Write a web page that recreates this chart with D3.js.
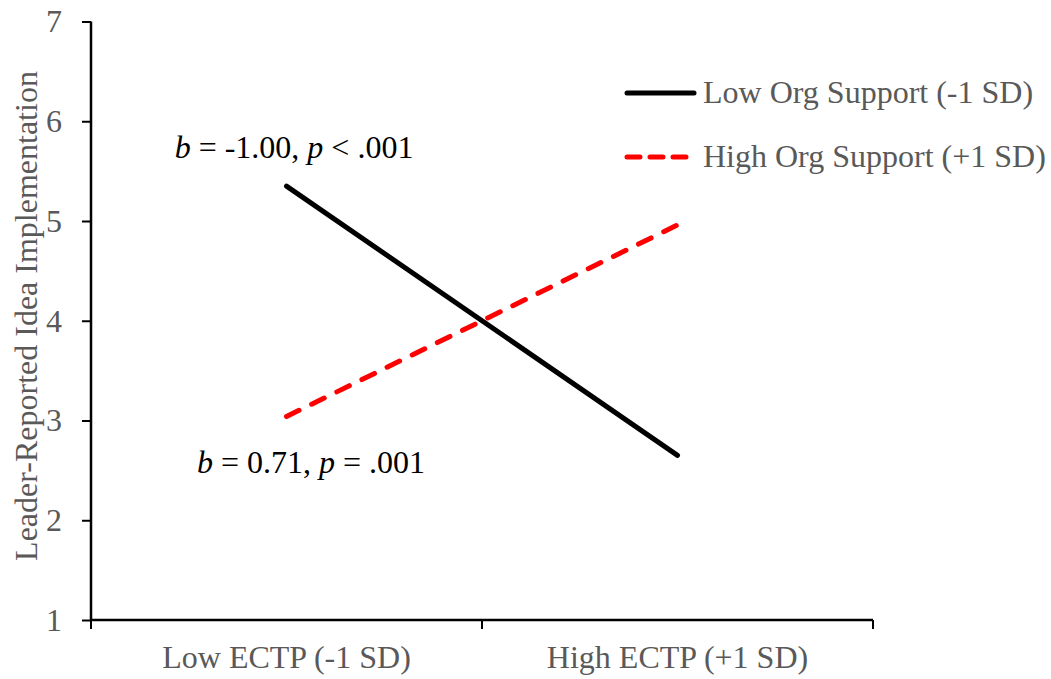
<!DOCTYPE html>
<html><head><meta charset="utf-8">
<script src="https://cdn.jsdelivr.net/npm/d3@7"></script>
<style>body{margin:0;background:#fff}svg{display:block}</style>
</head><body>
<svg id="c" width="1051" height="679"></svg>
<script>
const categories = ["Low ECTP (-1 SD)", "High ECTP (+1 SD)"];
const seriesNames = ["Low Org Support (-1 SD)", "High Org Support (+1 SD)"];
const lowOrg = [5.35, 2.65];
const highOrg = [3.04, 4.96];
const yTicks = [1, 2, 3, 4, 5, 6, 7];
const annotations = [
  {parts: [["b", true], [" = -1.00, ", false], ["p", true], [" < .001", false]]},
  {parts: [["b", true], [" = 0.71, ", false], ["p", true], [" = .001", false]]}
];

const svg = d3.select("#c");
const font = "'Liberation Serif', 'Times New Roman', serif";
const gray = "#595959";
const fs = 32;
const x = d3.scaleBand().domain(categories).range([91, 873]);
const y = d3.scaleLinear().domain([1, 7]).range([620, 21.5]);

const yAxis = svg.append("g").attr("transform", "translate(91,0)")
  .call(d3.axisLeft(y).tickValues(yTicks).tickFormat(d3.format("d")).tickSize(9).tickPadding(20));
const xAxis = svg.append("g").attr("transform", "translate(0,620)")
  .call(d3.axisBottom(x).tickSize(9).tickPadding(16));
xAxis.selectAll(".tick line").remove();
xAxis.selectAll(".bnd").data([91, 482, 873]).enter().append("line")
  .attr("x1", d => d).attr("x2", d => d).attr("y1", 0).attr("y2", 9)
  .attr("stroke", "#000").attr("stroke-width", 2);
[yAxis, xAxis].forEach(g => {
  g.attr("font-family", font).attr("font-size", fs);
  g.select(".domain").attr("stroke", "#000").attr("stroke-width", 2.5);
  g.selectAll(".tick line").attr("stroke", "#000").attr("stroke-width", 2);
  g.selectAll("text").attr("font-family", font).attr("font-size", fs).attr("fill", gray);
});
xAxis.select(".domain").attr("d", "M91,0H873");
yAxis.select(".domain").attr("d", "M0,21.5V620");

svg.append("text").attr("transform", "translate(30,316) rotate(-90)")
  .attr("text-anchor", "middle").attr("dominant-baseline", "middle")
  .attr("font-family", font).attr("font-size", fs).attr("fill", gray)
  .text("Leader-Reported Idea Implementation");

const line = d3.line().x((d, i) => x(categories[i]) + x.bandwidth() / 2).y(d => y(d));
svg.append("path").datum(lowOrg).attr("d", line).attr("fill", "none")
  .attr("stroke", "#000").attr("stroke-width", 5).attr("stroke-linecap", "round");
svg.append("path").datum(highOrg).attr("d", line).attr("fill", "none")
  .attr("stroke", "#ff0000").attr("stroke-width", 5).attr("stroke-linecap", "round")
  .attr("stroke-dasharray", "14,14");

// legend
const leg = svg.append("g");
[0, 1].forEach(i => {
  const yy = 93 + i * 64;
  const l = leg.append("line").attr("x1", 627).attr("x2", 694).attr("y1", yy).attr("y2", yy)
    .attr("stroke", i ? "#ff0000" : "#000").attr("stroke-width", 5).attr("stroke-linecap", "round");
  if (i) l.attr("stroke-dasharray", "13,10");
  leg.append("text").attr("x", 703).attr("y", yy + 10)
    .attr("font-family", font).attr("font-size", fs).attr("fill", gray).text(seriesNames[i]);
});

// annotations
const annPos = [[294, 158], [311, 473]];
annotations.forEach((a, i) => {
  const t = svg.append("text").attr("x", annPos[i][0]).attr("y", annPos[i][1])
    .attr("text-anchor", "middle").attr("font-family", font).attr("font-size", fs).attr("fill", "#000");
  a.parts.forEach(p => t.append("tspan").attr("font-style", p[1] ? "italic" : "normal").text(p[0]));
});
</script>
</body></html>
